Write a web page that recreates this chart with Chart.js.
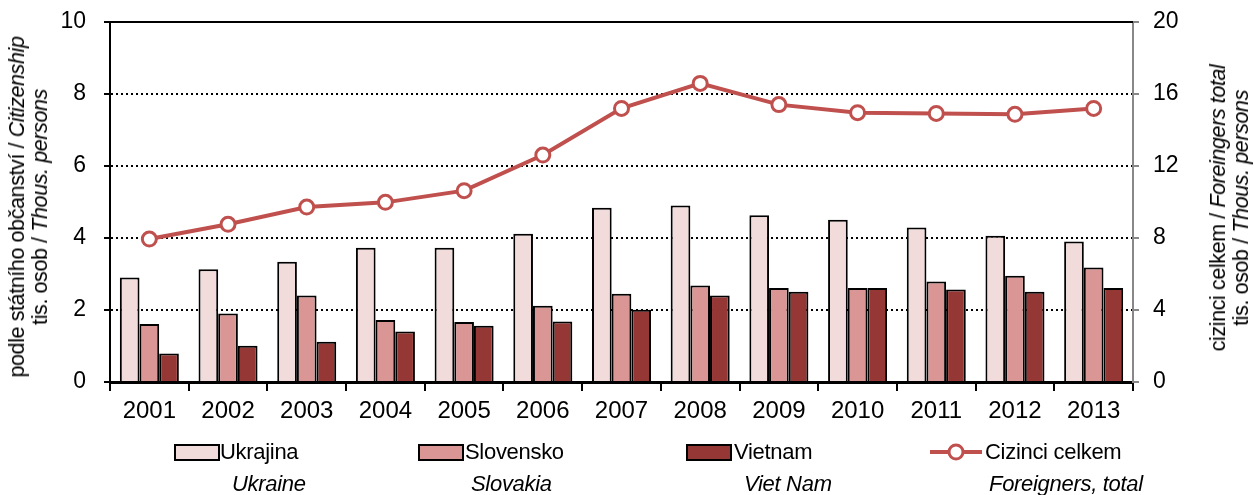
<!DOCTYPE html>
<html>
<head>
<meta charset="utf-8">
<script src="https://cdn.jsdelivr.net/npm/chart.js@4"></script>
<style>
  body { margin: 0; background: #fff; font-family: "Liberation Sans", Arial, sans-serif; }
  #wrap { position: relative; width: 1254px; height: 495px; overflow: hidden; }
  .ytitle { position: absolute; white-space: nowrap; font-size: 21.5px; color: #000; text-align: center; line-height: 23px; letter-spacing: -0.4px; }
  .leg { position: absolute; font-size: 22px; color: #000; white-space: nowrap; letter-spacing: -0.3px; }
  .sw { position: absolute; width: 42px; height: 13px; border: 2px solid #000; }
</style>
</head>
<body>
<div id="wrap">
  <canvas id="chart" width="1254" height="495"></canvas>

  <div class="ytitle" style="left:29px; top:207px; transform: translate(-50%,-50%) rotate(-90deg);">
    podle státního občanství / <i>Citizenship</i><br>tis. osob / <i>Thous. persons</i>
  </div>
  <div class="ytitle" style="left:1230px; top:208px; transform: translate(-50%,-50%) rotate(-90deg);">
    cizinci celkem / <i>Foreingers total</i><br>tis. osob / <i>Thous. persons</i>
  </div>

  <div class="sw" style="left:174px; top:444px; background:#F2DCDB;"></div>
  <div class="leg" style="left:220px; top:439px;">Ukrajina</div>
  <div class="leg" style="left:232px; top:471px;"><i>Ukraine</i></div>

  <div class="sw" style="left:418px; top:444px; background:#D99694;"></div>
  <div class="leg" style="left:465px; top:439px;">Slovensko</div>
  <div class="leg" style="left:471px; top:471px;"><i>Slovakia</i></div>

  <div class="sw" style="left:686px; top:444px; background:#953735;"></div>
  <div class="leg" style="left:734px; top:439px;">Vietnam</div>
  <div class="leg" style="left:744px; top:471px;"><i>Viet Nam</i></div>

  <svg style="position:absolute; left:928px; top:441px;" width="56" height="22">
    <line x1="2" y1="11" x2="54" y2="11" stroke="#C0504D" stroke-width="4"/>
    <circle cx="28" cy="11" r="7" fill="#fff" stroke="#C0504D" stroke-width="3"/>
  </svg>
  <div class="leg" style="left:985px; top:439px;">Cizinci celkem</div>
  <div class="leg" style="left:989px; top:471px;"><i>Foreigners, total</i></div>
</div>

<script>
// data (thousands of persons)
const years = ['2001', '2002', '2003', '2004', '2005', '2006', '2007', '2008', '2009', '2010', '2011', '2012', '2013'];
const ukrajina = [2.90, 3.13, 3.34, 3.73, 3.73, 4.12, 4.84, 4.90, 4.63, 4.51, 4.29, 4.06, 3.90];
const slovensko = [1.61, 1.90, 2.40, 1.72, 1.67, 2.12, 2.45, 2.68, 2.61, 2.61, 2.79, 2.95, 3.18];
const vietnam = [0.79, 1.01, 1.12, 1.40, 1.56, 1.68, 2.01, 2.40, 2.51, 2.61, 2.57, 2.51, 2.61];
const cizinciCelkem = [7.94, 8.76, 9.72, 9.98, 10.63, 12.61, 15.2, 16.59, 15.41, 14.96, 14.92, 14.87, 15.2];

const leftTicks = [0, 2, 4, 6, 8, 10];
const rightTicks = [0, 4, 8, 12, 16, 20];

const fontFamily = '"Liberation Sans", Arial, sans-serif';

function barSet(label, data, color) {
    return {
        type: 'bar',
        label: label,
        data: data,
        backgroundColor: color,
        borderColor: '#000',
        borderWidth: 2,
        borderSkipped: 'bottom',
        yAxisID: 'y',
        order: 2,
    };
}

// keep the axes from pushing the plot area around
function fixSize(w, h) {
    return s => {
        if (w) s.width = w;
        if (h) s.height = h;
        s.paddingTop = 0;
        s.paddingBottom = 0;
        s.paddingLeft = 0;
        s.paddingRight = 0;
    };
}

// solid line along the top of the plot (the 10 gridline is drawn solid there)
const topLine = {
    id: 'topLine',
    beforeDatasetsDraw(chart) {
        const { ctx, chartArea } = chart;
        ctx.save();
        ctx.strokeStyle = '#000';
        ctx.lineWidth = 2;
        ctx.beginPath();
        ctx.moveTo(chartArea.left - 6, chartArea.top);
        ctx.lineTo(chartArea.right, chartArea.top);
        ctx.stroke();
        ctx.restore();
    },
};

const ctx = document.getElementById('chart').getContext('2d');
const chart = new Chart(ctx, {
    data: {
        labels: years,
        datasets: [
            {
                type: 'line',
                label: 'Cizinci celkem',
                data: cizinciCelkem,
                borderColor: '#C0504D',
                borderWidth: 4,
                pointRadius: 7,
                pointBorderWidth: 3,
                pointBackgroundColor: '#fff',
                pointBorderColor: '#C0504D',
                tension: 0,
                yAxisID: 'y1',
                order: 1,
            },
            barSet('Ukrajina', ukrajina, '#F2DCDB'),
            barSet('Slovensko', slovensko, '#D99694'),
            barSet('Vietnam', vietnam, '#953735'),
        ],
    },
    options: {
        responsive: false,
        animation: false,
        layout: { padding: { top: 22, left: 0, right: 0, bottom: 0 } },
        datasets: { bar: { categoryPercentage: 0.75, barPercentage: 1.0 } },
        plugins: { legend: { display: false }, tooltip: { enabled: false } },
        scales: {
            x: {
                offset: true,
                grid: { offset: true, drawOnChartArea: false, color: '#000', tickLength: 9, lineWidth: 2 },
                border: { color: '#000', width: 3 },
                ticks: { color: '#000', font: { family: fontFamily, size: 24 }, padding: 6, maxRotation: 0 },
                afterFit: fixSize(0, 113),
            },
            y: {
                position: 'left',
                min: 0,
                max: 10,
                afterBuildTicks: s => { s.ticks = leftTicks.map(v => ({ value: v })); },
                grid: { color: '#000', lineWidth: 2, tickLength: 6, drawTicks: true },
                border: { color: '#000', width: 2, dash: [2, 3] },
                ticks: { color: '#000', font: { family: fontFamily, size: 23 }, padding: 18 },
                afterFit: fixSize(110, 0),
            },
            y1: {
                position: 'right',
                min: 0,
                max: 20,
                afterBuildTicks: s => { s.ticks = rightTicks.map(v => ({ value: v })); },
                grid: { drawOnChartArea: false, color: '#888', lineWidth: 2, tickLength: 6 },
                border: { color: '#888', width: 2 },
                ticks: { color: '#000', font: { family: fontFamily, size: 23 }, padding: 14 },
                afterFit: fixSize(121, 0),
            },
        },
    },
    plugins: [topLine],
});
</script>
</body>
</html>
